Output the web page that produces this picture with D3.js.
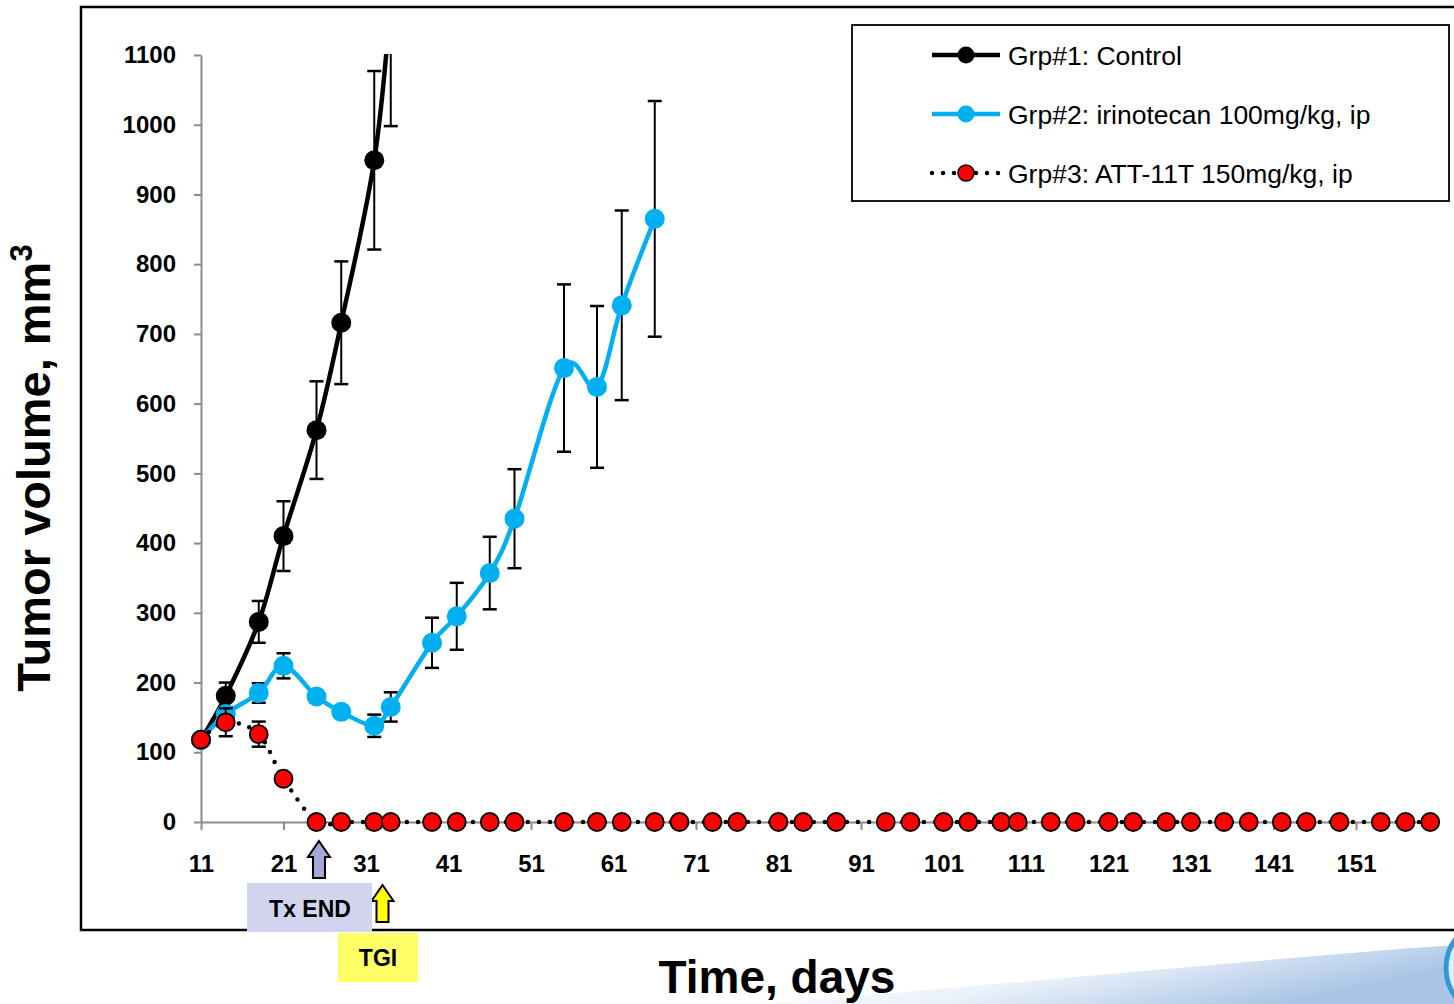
<!DOCTYPE html>
<html>
<head>
  <script src="https://d3js.org/d3.v7.min.js"></script>
  <style>
    body { margin: 0; background: #fff; }
    svg { display: block; font-family: "Liberation Sans", Arial, sans-serif; }
    .axis path, .axis line { stroke: #8c8c8c; stroke-width: 2px; }
    .axis text { font-size: 24px; font-weight: bold; fill: #000; }
  </style>
</head>
<body>
  <script>
    // Grp#1 control
    var ctrlDays = [11, 14, 18, 21, 25, 28, 32, 34];
    var ctrlVals = [118, 181, 287, 410, 562, 716, 949, 1180];
    var ctrlErr  = [6, 19, 30, 50, 70, 88, 128, 182];

    // Grp#2 irinotecan
    var iriDays = [11, 14, 18, 21, 25, 28, 32, 34, 39, 42, 46, 49, 55, 59, 62, 66];
    var iriVals = [118, 155, 185, 224, 180, 158, 138, 165, 257, 295, 357, 435, 651, 624, 741, 865];
    var iriErr  = [6, 10, 14, 18, 8, 8, 16, 21, 36, 48, 52, 71, 120, 116, 136, 169];

    // Grp#3 ATT-11T
    var attDays = [11, 14, 18, 21, 25, 28, 32, 34, 39, 42, 46, 49, 55, 59, 62, 66, 69, 73, 76,
                   81, 84, 88, 94, 97, 101, 104, 108, 110, 114, 117, 121, 124, 128, 131, 135,
                   138, 142, 145, 149, 154, 157, 160];
    var attVals = [118, 143, 126, 62, 0, 0, 0, 0, 0, 0, 0, 0, 0, 0, 0, 0, 0, 0, 0,
                   0, 0, 0, 0, 0, 0, 0, 0, 0, 0, 0, 0, 0, 0, 0, 0,
                   0, 0, 0, 0, 0, 0, 0];
    var attErr  = [6, 20, 18, 5];

    var xTicks = [11, 21, 31, 41, 51, 61, 71, 81, 91, 101, 111, 121, 131, 141, 151];
    var yTicks = [0, 100, 200, 300, 400, 500, 600, 700, 800, 900, 1000, 1100];
    var legendLabels = ["Grp#1: Control", "Grp#2: irinotecan 100mg/kg, ip", "Grp#3: ATT-11T 150mg/kg, ip"];
    var txEndDay = 25.3, tgiDay = 33;

    var width = 1454, height = 1004;
    var svg = d3.select("body").append("svg")
        .attr("width", width)
        .attr("height", height);

    var x = d3.scaleLinear().domain([11, 161]).range([201, 1438.5]);
    var y = d3.scaleLinear().domain([0, 1100]).range([822, 55]);

    // background swoosh (slide template)
    var defs = svg.append("defs");
    var grad = defs.append("linearGradient").attr("id", "swoosh")
        .attr("x1", "0").attr("y1", "0").attr("x2", "1").attr("y2", "0.4");
    grad.append("stop").attr("offset", "0").attr("stop-color", "#ffffff").attr("stop-opacity", 0);
    grad.append("stop").attr("offset", "0.55").attr("stop-color", "#eaf1f9");
    grad.append("stop").attr("offset", "1").attr("stop-color", "#a9c4e6");
    svg.append("path")
        .attr("d", "M760,1004 C1000,985 1250,960 1454,945 L1454,1004 Z")
        .attr("fill", "url(#swoosh)");
    svg.append("circle")
        .attr("cx", 1494).attr("cy", 968).attr("r", 48)
        .attr("fill", "#d9eefa").attr("stroke", "#2f9ad6").attr("stroke-width", 5);

    // frame
    svg.append("rect")
        .attr("x", 81).attr("y", 7).attr("width", 1400).attr("height", 923)
        .attr("fill", "#fff").attr("stroke", "#000").attr("stroke-width", 2.5);

    defs.append("clipPath").attr("id", "plot")
      .append("rect").attr("x", 150).attr("y", 54).attr("width", 1300).attr("height", 800);

    // axes
    var yAxis = d3.axisLeft(y).tickValues(yTicks).tickSize(7).tickSizeOuter(0).tickPadding(18)
        .tickFormat(d3.format("d"));
    var xAxis = d3.axisBottom(x).tickValues(xTicks).tickSize(8).tickSizeOuter(0).tickPadding(25)
        .tickFormat(d3.format("d"));

    svg.append("g").attr("class", "y axis")
        .attr("transform", "translate(" + x(11) + ",0)")
        .call(yAxis);
    svg.append("g").attr("class", "x axis")
        .attr("transform", "translate(0," + y(0) + ")")
        .call(xAxis);

    var plot = svg.append("g").attr("clip-path", "url(#plot)");
    var curve = d3.curveCatmullRom.alpha(0);

    function series(days, vals, errs, lineStyle, dotFill, dotStroke) {
      var pts = days.map(function(d, i) { return { d: d, v: vals[i], e: errs[i] || 0 }; });
      var g = plot.append("g");
      // error bars
      var eb = g.selectAll(".eb").data(pts.filter(function(p) { return p.e > 0; }))
        .enter().append("g");
      eb.append("line")
          .attr("x1", function(p) { return x(p.d); }).attr("x2", function(p) { return x(p.d); })
          .attr("y1", function(p) { return y(p.v + p.e); }).attr("y2", function(p) { return y(p.v - p.e); })
          .attr("stroke", "#000").attr("stroke-width", 2);
      [1, -1].forEach(function(s) {
        eb.append("line")
            .attr("x1", function(p) { return x(p.d) - 7; }).attr("x2", function(p) { return x(p.d) + 7; })
            .attr("y1", function(p) { return y(p.v + s * p.e); }).attr("y2", function(p) { return y(p.v + s * p.e); })
            .attr("stroke", "#000").attr("stroke-width", 2.5);
      });
      var line = d3.line().curve(curve)
          .x(function(p) { return x(p.d); })
          .y(function(p) { return y(p.v); });
      var path = g.append("path").datum(pts).attr("d", line).attr("fill", "none");
      lineStyle(path);
      g.selectAll(".dot").data(pts).enter().append("circle")
          .attr("cx", function(p) { return x(p.d); })
          .attr("cy", function(p) { return y(p.v); })
          .attr("r", dotStroke ? 9 : 10)
          .attr("fill", dotFill)
          .attr("stroke", dotStroke || "none")
          .attr("stroke-width", 1.8);
    }

    function solid(color) {
      return function(p) { p.attr("stroke", color).attr("stroke-width", 4.5).attr("stroke-linejoin", "round"); };
    }
    function dotted(p) {
      p.attr("stroke", "#000").attr("stroke-width", 4.5)
        .attr("stroke-linecap", "round").attr("stroke-dasharray", "0 11");
    }

    series(ctrlDays, ctrlVals, ctrlErr, solid("#000"), "#000", null);
    series(iriDays, iriVals, iriErr, solid("#00b0f0"), "#00b0f0", null);
    series(attDays, attVals, attErr, dotted, "#ff0000", "#000");

    // legend
    var lg = svg.append("g");
    lg.append("rect").attr("x", 852).attr("y", 25).attr("width", 597).attr("height", 176)
        .attr("fill", "#fff").attr("stroke", "#000").attr("stroke-width", 1.8);
    var legendY = [55, 114, 173];
    var lgColors = ["#000", "#00b0f0", "#ff0000"];
    legendLabels.forEach(function(t, i) {
      var ly = legendY[i];
      var l = lg.append("line").attr("x1", 932).attr("x2", 1000).attr("y1", ly).attr("y2", ly);
      if (i < 2) l.attr("stroke", lgColors[i]).attr("stroke-width", 4.5);
      else dotted(l);
      lg.append("circle").attr("cx", 966).attr("cy", ly).attr("r", i < 2 ? 8.5 : 8)
          .attr("fill", lgColors[i])
          .attr("stroke", i < 2 ? "none" : "#000").attr("stroke-width", 1.5);
      lg.append("text").attr("x", 1008).attr("y", ly).attr("dy", "0.36em")
          .style("font-size", "26.5px").text(t);
    });

    // axis titles
    var yt = svg.append("text")
        .attr("transform", "translate(50,468) rotate(-90)")
        .attr("text-anchor", "middle")
        .style("font-size", "47px").style("font-weight", "bold");
    yt.append("tspan").text("Tumor volume, mm");
    yt.append("tspan").attr("dy", "-18").style("font-size", "31px").text("3");

    svg.append("text").attr("x", 777).attr("y", 993).attr("text-anchor", "middle")
        .style("font-size", "46px").style("font-weight", "bold").text("Time, days");

    // annotations
    function upArrow(cx, top, h, fill) {
      var hw = 11, sw = 6, hh = 16;
      var d = "M" + cx + "," + top +
        " L" + (cx + hw) + "," + (top + hh) +
        " L" + (cx + sw) + "," + (top + hh) +
        " L" + (cx + sw) + "," + (top + h) +
        " L" + (cx - sw) + "," + (top + h) +
        " L" + (cx - sw) + "," + (top + hh) +
        " L" + (cx - hw) + "," + (top + hh) + " Z";
      svg.append("path").attr("d", d).attr("fill", fill)
          .attr("stroke", "#000").attr("stroke-width", 2).attr("stroke-linejoin", "miter");
    }
    upArrow(x(txEndDay), 841, 37, "#a6a8dc");
    upArrow(x(tgiDay), 885, 37, "#ffff00");

    svg.append("rect").attr("x", 247).attr("y", 883).attr("width", 125).attr("height", 49)
        .attr("fill", "#d2d4ef");
    svg.append("text").attr("x", 310).attr("y", 909).attr("dy", "0.36em").attr("text-anchor", "middle")
        .style("font-size", "23px").style("font-weight", "bold").text("Tx END");
    svg.append("rect").attr("x", 338).attr("y", 933).attr("width", 80).attr("height", 49)
        .attr("fill", "#ffff66");
    svg.append("text").attr("x", 378).attr("y", 958).attr("dy", "0.36em").attr("text-anchor", "middle")
        .style("font-size", "23px").style("font-weight", "bold").text("TGI");
  </script>
</body>
</html>
